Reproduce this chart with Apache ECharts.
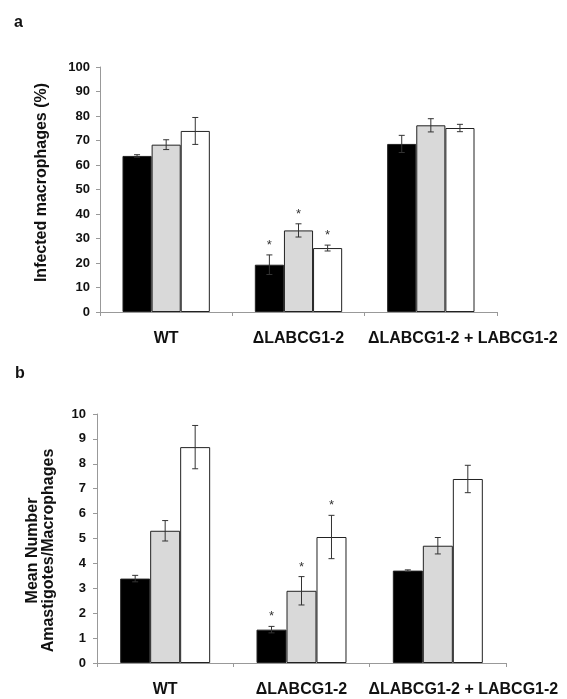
<!DOCTYPE html>
<html>
<head>
<meta charset="utf-8">
<script src="https://cdn.jsdelivr.net/npm/echarts@6/dist/echarts.min.js"></script>
<style>
  html, body { margin: 0; padding: 0; background: #fff; }
  #chart { width: 567px; height: 699px; }
</style>
</head>
<body>
<div id="chart"></div>
<script>
// categories (same for both panels)
var categories = ['WT', '\u0394LABCG1-2', '\u0394LABCG1-2 + LABCG1-2'];

// panel a: infected macrophages (%), one array per bar colour
var infBlack = [63.7, 19.3, 68.6];
var infGrey  = [68.3, 33.3, 76.2];
var infWhite = [73.9, 26.1, 75.1];
var infBlackErr = [0.5, 4.0, 3.5];
var infGreyErr  = [2.0, 2.7, 2.7];
var infWhiteErr = [5.5, 1.2, 1.5];

// panel b: mean number amastigotes / macrophages
var amaBlack = [3.39, 1.34, 3.71];
var amaGrey  = [5.31, 2.90, 4.71];
var amaWhite = [8.67, 5.06, 7.39];
var amaBlackErr = [0.13, 0.13, 0.03];
var amaGreyErr  = [0.41, 0.57, 0.33];
var amaWhiteErr = [0.87, 0.87, 0.55];

// significance stars (same groups in both panels)
var starBlack = [0, 1, 0];
var starGrey  = [0, 1, 0];
var starWhite = [0, 1, 0];

var colors = ['#000000', '#d9d9d9', '#ffffff'];
var GAP = 0.34;
var FONT = '"Liberation Sans", Arial, sans-serif';

// rows for error bars: [catIndex, value, err, star, barIndex]
function errRows(vals, errs, stars) {
    var rows = [];
    for (var k = 0; k < 3; k++) {
        for (var i = 0; i < categories.length; i++) {
            rows.push([i, vals[k][i], errs[k][i], stars[k][i], k]);
        }
    }
    return rows;
}

function renderErr(params, api) {
    var cat = api.value(0), val = api.value(1), err = api.value(2);
    var star = api.value(3), k = api.value(4);
    var band = api.size([1, 0])[0];
    var bw = band * (1 - GAP) / 3;
    var x = api.coord([cat, val])[0] + (k - 1) * bw;
    var top = api.coord([cat, val + err])[1];
    var bot = api.coord([cat, val - err])[1];
    var st = {stroke: '#333', lineWidth: 1};
    var children = [
        {type: 'line', shape: {x1: x, y1: top, x2: x, y2: bot}, style: st},
        {type: 'line', shape: {x1: x - 3, y1: top, x2: x + 3, y2: top}, style: st},
        {type: 'line', shape: {x1: x - 3, y1: bot, x2: x + 3, y2: bot}, style: st}
    ];
    if (star) {
        children.push({
            type: 'text',
            style: {
                text: '*', x: x, y: top - 3, align: 'center', verticalAlign: 'bottom',
                fill: '#333', font: '13px ' + FONT
            }
        });
    }
    return {type: 'group', children: children};
}

function barSeries(idx, data) {
    return {
        type: 'bar',
        xAxisIndex: idx,
        yAxisIndex: idx,
        data: data,
        barGap: '0%',
        barCategoryGap: (GAP * 100) + '%',
        itemStyle: {borderColor: '#222', borderWidth: 1},
        silent: true
    };
}

function xAxis(idx, lastShift) {
    return {
        type: 'category',
        gridIndex: idx,
        // the last label sits to the right of its slot in the original
        data: categories.map(function (c, i) {
            return i === categories.length - 1
                ? {value: c, textStyle: {padding: [0, 0, 0, lastShift]}}
                : c;
        }),
        axisLine: {lineStyle: {color: '#999', width: 1}},
        axisTick: {show: true, length: 4, lineStyle: {color: '#999'}},
        axisLabel: {
            color: '#111', fontFamily: FONT, fontWeight: 'bold', fontSize: 16,
            margin: 19, interval: 0
        }
    };
}

function yAxis(idx, max, interval, name, nameGap, pad, labelMargin) {
    return {
        type: 'value',
        gridIndex: idx,
        min: 0,
        max: max,
        interval: interval,
        name: name,
        nameLocation: 'middle',
        nameRotate: 90,
        nameGap: nameGap,
        nameTextStyle: {
            color: '#111', fontFamily: FONT, fontWeight: 'bold', fontSize: 16,
            lineHeight: 16, padding: pad
        },
        axisLine: {show: true, lineStyle: {color: '#999', width: 1}},
        axisTick: {show: true, length: 4, lineStyle: {color: '#999'}},
        splitLine: {show: false},
        axisLabel: {
            color: '#111', fontFamily: FONT, fontWeight: 'bold', fontSize: 13,
            margin: labelMargin
        }
    };
}

var myChart = echarts.init(document.getElementById('chart'));
var s0 = [barSeries(0, infBlack), barSeries(0, infGrey), barSeries(0, infWhite)];
var s1 = [barSeries(1, amaBlack), barSeries(1, amaGrey), barSeries(1, amaWhite)];
[s0, s1].forEach(function (arr) {
    arr.forEach(function (s, k) { s.itemStyle.color = colors[k]; });
});

var option = {
    animation: false,
    backgroundColor: '#fff',
    title: [
        {text: 'a', left: 9, top: 10, textStyle: {fontFamily: FONT, fontSize: 16, fontWeight: 'bold', color: '#111'}},
        {text: 'b', left: 10, top: 361, textStyle: {fontFamily: FONT, fontSize: 16, fontWeight: 'bold', color: '#111'}}
    ],
    grid: [
        {left: 100, right: 70, top: 67, bottom: 387},
        {left: 97, right: 61, top: 414, bottom: 36}
    ],
    xAxis: [xAxis(0, 64), xAxis(1, 51)],
    yAxis: [
        yAxis(0, 100, 10, 'Infected macrophages (%)', 50, [0, 0, 0, 14], 10),
        yAxis(1, 10, 1, 'Mean Number\nAmastigotes/Macrophages', 40, [0, 24, 0, 0], 11)
    ],
    series: s0.concat(s1).concat([
        {
            type: 'custom',
            xAxisIndex: 0,
            yAxisIndex: 0,
            renderItem: renderErr,
            encode: {x: 0, y: 1},
            data: errRows([infBlack, infGrey, infWhite],
                          [infBlackErr, infGreyErr, infWhiteErr],
                          [starBlack, starGrey, starWhite]),
            z: 10,
            silent: true
        },
        {
            type: 'custom',
            xAxisIndex: 1,
            yAxisIndex: 1,
            renderItem: renderErr,
            encode: {x: 0, y: 1},
            data: errRows([amaBlack, amaGrey, amaWhite],
                          [amaBlackErr, amaGreyErr, amaWhiteErr],
                          [starBlack, starGrey, starWhite]),
            z: 10,
            silent: true
        }
    ])
};
myChart.setOption(option);
</script>
</body>
</html>
